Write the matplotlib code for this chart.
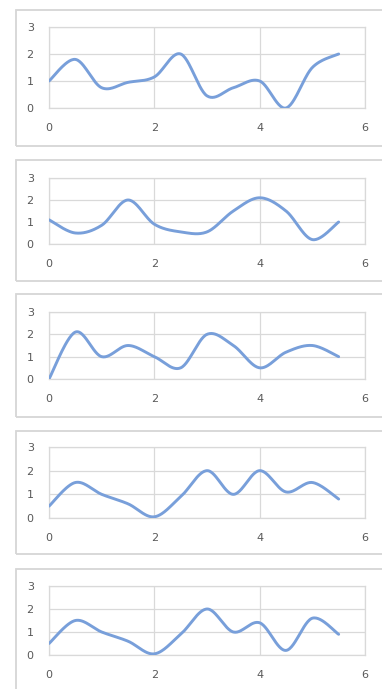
import numpy as np
import matplotlib
matplotlib.use('Agg')
import matplotlib.pyplot as plt
from matplotlib.patches import Rectangle

# data points (x step 0.5)
x = [0, 0.5, 1, 1.5, 2, 2.5, 3, 3.5, 4, 4.5, 5, 5.5]
s1 = [1.0, 1.8, 0.75, 0.95, 1.15, 2.0, 0.45, 0.75, 1.0, 0.0, 1.5, 2.0]
s2 = [1.1, 0.5, 0.85, 2.0, 0.9, 0.55, 0.55, 1.5, 2.1, 1.5, 0.2, 1.0]
s3 = [0.0, 2.1, 1.0, 1.5, 1.0, 0.5, 2.0, 1.5, 0.5, 1.2, 1.5, 1.0]
s4 = [0.5, 1.5, 1.0, 0.6, 0.05, 0.9, 2.0, 1.0, 2.0, 1.1, 1.5, 0.8]
s5 = [0.5, 1.5, 1.0, 0.6, 0.05, 0.9, 2.0, 1.0, 1.4, 0.2, 1.6, 0.9]
series = [s1, s2, s3, s4, s5]
xticks = [0, 2, 4, 6]
yticks = [0, 1, 2, 3]

W, H = 382, 689
# pixel layout: (box top, box bottom, plot top, plot bottom)
layout = [(10, 146, 27, 108), (160, 281, 178, 244), (294, 417, 312, 379),
          (431, 554, 447, 518), (569, 700, 586, 655)]
box_l, box_r = 16, 395
ax_l, ax_r = 49, 365

line_col = '#789fda'
grid_col = '#d9d9d9'
txt_col = '#595959'


def smooth(xs, ys, n=30):
    # catmull-rom like Excel's smoothed line
    xs = np.asarray(xs, float)
    ys = np.asarray(ys, float)
    px = np.concatenate([[xs[0]], xs, [xs[-1]]])
    py = np.concatenate([[ys[0]], ys, [ys[-1]]])
    outx, outy = [], []
    for i in range(1, len(px) - 2):
        t = np.linspace(0, 1, n)
        p0x, p1x, p2x, p3x = px[i-1], px[i], px[i+1], px[i+2]
        p0y, p1y, p2y, p3y = py[i-1], py[i], py[i+1], py[i+2]
        # bezier control points
        c1x = p1x + (p2x - p0x) / 6
        c1y = p1y + (p2y - p0y) / 6
        c2x = p2x - (p3x - p1x) / 6
        c2y = p2y - (p3y - p1y) / 6
        bx = (1-t)**3*p1x + 3*(1-t)**2*t*c1x + 3*(1-t)*t**2*c2x + t**3*p2x
        by = (1-t)**3*p1y + 3*(1-t)**2*t*c1y + 3*(1-t)*t**2*c2y + t**3*p2y
        outx.extend(bx)
        outy.extend(by)
    return np.array(outx), np.array(outy)


fig = plt.figure(figsize=(W/100, H/100), dpi=100)
fig.patch.set_facecolor('white')

for (bt, bb, pt, pb), ys in zip(layout, series):
    fig.patches.append(Rectangle((box_l/W, 1 - bb/H), (box_r - box_l)/W, (bb - bt)/H,
                                 transform=fig.transFigure, fill=False,
                                 edgecolor='#d6d6d6', linewidth=1.3))
    ax = fig.add_axes([ax_l/W, 1 - pb/H, (ax_r - ax_l)/W, (pb - pt)/H])
    sx, sy = smooth(x, ys)
    ax.plot(sx, sy, color=line_col, linewidth=2.1, solid_capstyle='round', zorder=3)
    ax.set_xlim(0, 6)
    ax.set_ylim(0, 3)
    ax.set_xticks(xticks)
    ax.set_yticks(yticks)
    ax.grid(True, color=grid_col, linewidth=0.9)
    ax.set_axisbelow(True)
    for sp in ax.spines.values():
        sp.set_color(grid_col)
        sp.set_linewidth(0.9)
    ax.tick_params(length=0, labelsize=8, labelcolor=txt_col)
    ax.tick_params(axis='y', pad=11)
    ax.tick_params(axis='x', pad=11)

fig.savefig('out.png', dpi=100, facecolor='white')
